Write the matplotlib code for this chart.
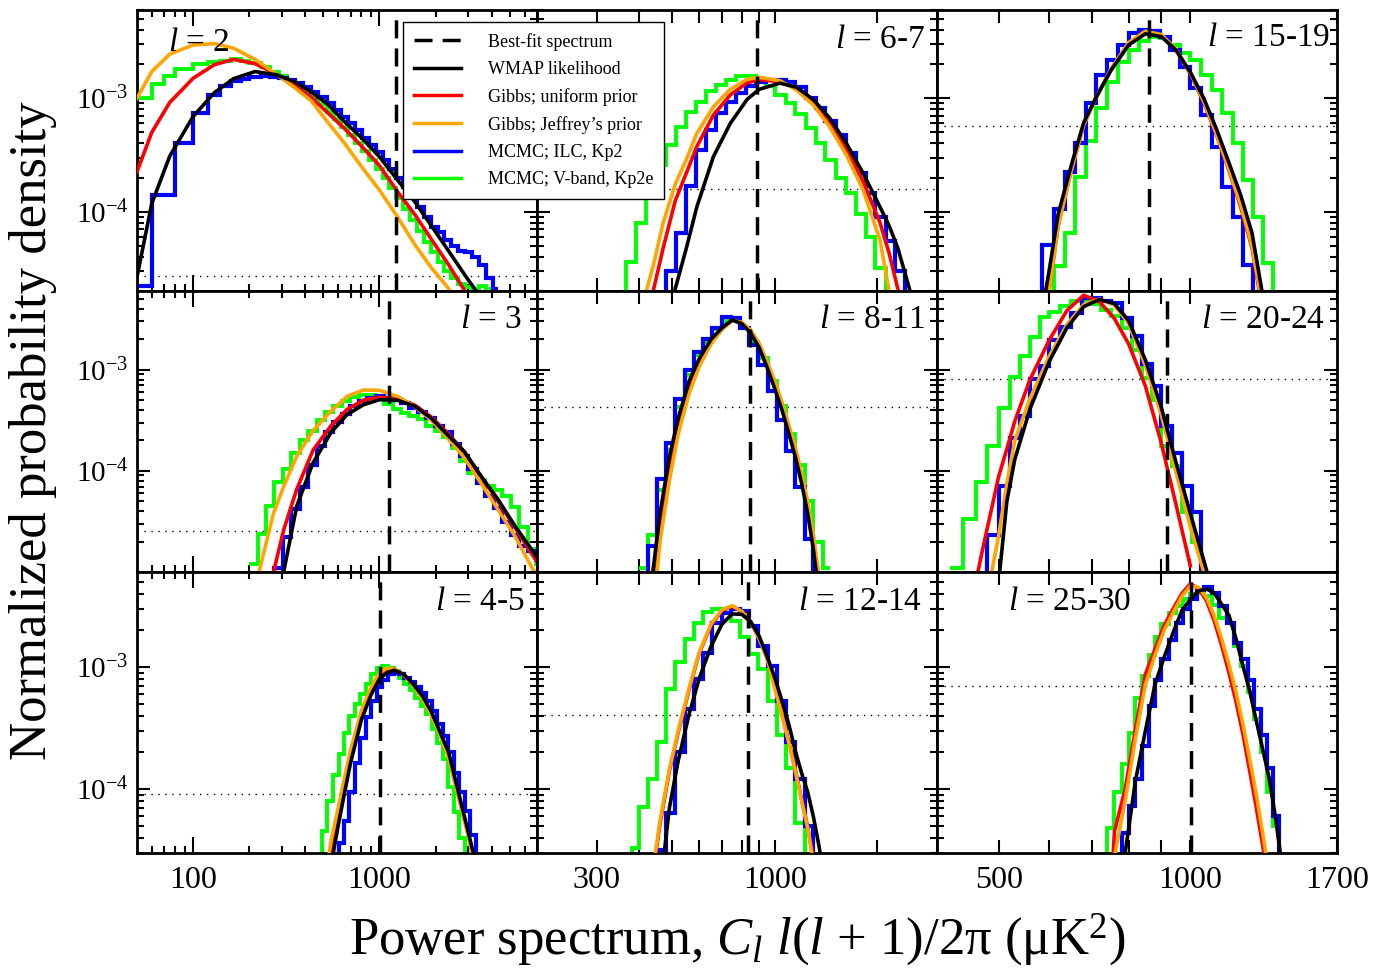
import numpy as np
import matplotlib
matplotlib.use("Agg")
import matplotlib.pyplot as plt
from matplotlib.ticker import FixedLocator, FixedFormatter, NullFormatter, LogLocator
from matplotlib.lines import Line2D

nan = np.nan

# ---- l = 2 ----
x_l2 = [50, 60, 75, 100, 130, 165, 215, 280, 350, 430, 530, 650, 800, 1000, 1250, 1550, 1900, 2350, 2900, 3300]
wmap_l2 = [2.66e-5, 1.18e-4, 3.1e-4, 6.9e-4, 1.12e-3, 1.49e-3, 1.72e-3, 1.61e-3, 1.4e-3, 1.14e-3, 8.8e-4, 6.2e-4,
           4.5e-4, 3.05e-4, 1.9e-4, 1.22e-4, 7.5e-5, 4.5e-5, 2.7e-5, 2.0e-5]
uni_l2 = [2.25e-4, 5.0e-4, 9.2e-4, 1.5e-3, 1.98e-3, 2.2e-3, 2.02e-3, 1.63e-3, 1.3e-3, 1.02e-3, 7.4e-4, 5.4e-4,
          3.8e-4, 2.55e-4, 1.5e-4, 9.4e-5, 5.7e-5, 3.4e-5, 1.95e-5, 1.3e-5]
jef_l2 = [1.0e-3, 1.72e-3, 2.45e-3, 2.95e-3, 3.03e-3, 2.76e-3, 2.2e-3, 1.63e-3, 1.24e-3, 9.5e-4, 6.1e-4, 4.0e-4,
          2.5e-4, 1.55e-4, 9.0e-5, 5.1e-5, 3.2e-5, 2.1e-5, 1.2e-5, 9e-6]
edges_l2 = [50, 60, 70, 80, 100, 120, 140, 160, 180, 200, 230, 260, 290, 320, 350, 390, 430, 470, 520, 570, 620,
            680, 740, 810, 880, 960, 1040, 1130, 1230, 1340, 1460, 1590, 1730, 1880, 2050, 2230, 2430, 2650, 2890,
            3150, 3430, 3740, 4080, 4300]
ilc_l2 = [2.2e-5, 1.4e-4, 1.4e-4, 4.0e-4, 7.4e-4, 1.07e-3, 1.29e-3, 1.42e-3, 1.48e-3, 1.55e-3, 1.56e-3, 1.55e-3,
          1.5e-3, 1.45e-3, 1.36e-3, 1.25e-3, 1.14e-3, 1.02e-3, 9.0e-4, 7.9e-4, 6.9e-4, 6.0e-4, 5.2e-4, 4.5e-4,
          3.9e-4, 3.35e-4, 2.85e-4, 2.4e-4, 2.0e-4, 1.65e-4, 1.35e-4, 1.1e-4, 9.0e-5, 7.4e-5, 6.6e-5, 5.6e-5,
          5.0e-5, 4.5e-5, 4.4e-5, 4.0e-5, 3.4e-5, 2.6e-5, 2.1e-5]
vband_l2 = [1.0e-3, 1.34e-3, 1.56e-3, 1.8e-3, 2.0e-3, 2.1e-3, 2.15e-3, 2.2e-3, 2.15e-3, 2.05e-3, 1.9e-3, 1.72e-3,
            1.58e-3, 1.45e-3, 1.3e-3, 1.15e-3, 1.02e-3, 8.9e-4, 7.6e-4, 6.5e-4, 5.6e-4, 4.7e-4, 4.0e-4, 3.4e-4,
            2.85e-4, 2.4e-4, 2.0e-4, 1.62e-4, 1.32e-4, 1.05e-4, 8.4e-5, 6.7e-5, 5.4e-5, 4.4e-5, 3.6e-5, 3.0e-5,
            2.6e-5, 2.3e-5, 2.15e-5, 2.1e-5, 2.2e-5, 2.1e-5, 1e-6]

# ---- l = 6-7 ----
x_l67 = [400, 420, 440, 470, 510, 550, 590, 660, 740, 830, 900, 1035, 1160, 1300, 1450, 1625, 1820, 2040, 2170,
         2300, 2500, 2700]
wmap_l67 = [nan, nan, nan, 5e-6, 2.1e-5, 4.8e-5, 1.1e-4, 3.05e-4, 6.0e-4, 9.8e-4, 1.2e-3, 1.36e-3, 1.25e-3,
            9.7e-4, 6.7e-4, 4.0e-4, 2.18e-4, 1.1e-4, 7.5e-5, 4.8e-5, 2.0e-5, 7e-6]
uni_l67 = [4e-6, 1.0e-5, 2.04e-5, 4.8e-5, 1.25e-4, 2.2e-4, 3.75e-4, 7.1e-4, 1.07e-3, 1.37e-3, 1.46e-3, 1.4e-3,
           1.22e-3, 9.3e-4, 6.2e-4, 3.6e-4, 1.84e-4, 8.0e-5, 4.3e-5, 2.1e-5, 7e-6, nan]
jef_l67 = [9e-6, 2.04e-5, 3.4e-5, 8.0e-5, 1.75e-4, 2.9e-4, 4.9e-4, 8.4e-4, 1.2e-3, 1.47e-3, 1.53e-3, 1.43e-3,
           1.18e-3, 8.7e-4, 5.6e-4, 3.16e-4, 1.55e-4, 5.6e-5, 2.0e-5, 7e-6, nan, nan]
edges_l67 = [340, 365, 390, 417, 446, 478, 511, 547, 585, 626, 670, 717, 767, 821, 878, 940, 1005, 1076, 1151,
             1232, 1318, 1410, 1509, 1615, 1728, 1849, 1978, 2117, 2265, 2423, 2600]
ilc_l67 = [1e-6, 1e-6, 1e-6, 1e-6, 1e-6, 3.0e-5, 6.5e-5, 1.7e-4, 3.5e-4, 5.3e-4, 7.4e-4, 9.3e-4, 1.12e-3, 1.27e-3,
           1.38e-3, 1.44e-3, 1.45e-3, 1.38e-3, 1.25e-3, 1.0e-3, 8.2e-4, 6.3e-4, 4.7e-4, 3.3e-4, 2.2e-4, 1.45e-4,
           9.0e-5, 5.5e-5, 3.0e-5, 1e-6]
vband_l67 = [1.9e-5, 3.6e-5, 8.0e-5, 1.6e-4, 2.6e-4, 3.9e-4, 5.6e-4, 7.5e-4, 9.3e-4, 1.17e-3, 1.32e-3, 1.45e-3,
             1.56e-3, 1.58e-3, 1.47e-3, 1.28e-3, 1.07e-3, 9.0e-4, 7.3e-4, 5.5e-4, 4.0e-4, 2.85e-4, 2.0e-4, 1.45e-4,
             9.5e-5, 6.0e-5, 3.2e-5, 1e-6, 1e-6, 1e-6]

# ---- l = 15-19 ----
x_l1519 = [580, 600, 620, 650, 680, 710, 750, 800, 850, 900, 950, 1000, 1050, 1100, 1150, 1200, 1250, 1300, 1330]
wmap_l1519 = [1.0e-5, 3.0e-5, 9.5e-5, 2.55e-4, 6.1e-4, 1.0e-3, 1.75e-3, 2.95e-3, 3.7e-3, 3.5e-3, 2.65e-3,
              1.7e-3, 1.0e-3, 5.3e-4, 2.7e-4, 1.4e-4, 6.5e-5, 1.8e-5, 8e-6]
uni_l1519 = [6e-6, 2.0e-5, 7.5e-5, 2.3e-4, 5.8e-4, 1.0e-3, 1.8e-3, 3.05e-3, 3.85e-3, 3.6e-3, 2.65e-3, 1.65e-3,
             9.2e-4, 4.7e-4, 2.3e-4, 1.1e-4, 4.8e-5, 1.3e-5, 5e-6]
jef_l1519 = [6e-6, 2.0e-5, 7.5e-5, 2.3e-4, 5.8e-4, 1.0e-3, 1.8e-3, 3.1e-3, 3.9e-3, 3.65e-3, 2.7e-3, 1.68e-3,
             9.4e-4, 4.8e-4, 2.35e-4, 1.15e-4, 5.0e-5, 1.4e-5, 5e-6]
edges_l1519 = [560, 585, 610, 635, 660, 685, 712, 740, 770, 800, 830, 862, 895, 930, 965, 1000, 1040, 1080,
               1120, 1165, 1210, 1255, 1300, 1350, 1400]
ilc_l1519 = [1e-6, 5.1e-5, 1.05e-4, 2.25e-4, 4.0e-4, 9.0e-4, 1.6e-3, 2.18e-3, 2.95e-3, 3.75e-3, 4.0e-3, 3.95e-3,
             3.5e-3, 2.67e-3, 1.9e-3, 1.22e-3, 7.1e-4, 3.74e-4, 1.66e-4, 9.0e-5, 3.4e-5, 1e-6, 1e-6, 1e-6]
vband_l1519 = [1e-6, 1e-6, 3.3e-5, 6.5e-5, 2.03e-4, 4.2e-4, 8.2e-4, 1.4e-3, 2.1e-3, 2.67e-3, 3.2e-3, 3.5e-3,
               3.4e-3, 2.95e-3, 2.5e-3, 2.18e-3, 1.61e-3, 1.18e-3, 7.4e-4, 4.0e-4, 1.9e-4, 9.0e-5, 3.5e-5, 1e-6]

# ---- l = 3 ----
x_l3 = [200, 230, 270, 306, 360, 440, 550, 670, 820, 1000, 1250, 1550, 1900, 2300, 2850, 3500, 4300, 5300, 6500, 7000]
wmap_l3 = [nan, nan, 2e-6, 1.0e-5, 4.5e-5, 1.2e-4, 2.4e-4, 3.6e-4, 4.5e-4, 5.05e-4, 5.0e-4, 4.35e-4, 3.3e-4,
           2.3e-4, 1.55e-4, 8.9e-5, 5.3e-5, 2.9e-5, 1.7e-5, 1.4e-5]
uni_l3 = [nan, 3e-6, 1.0e-5, 2.6e-5, 6.6e-5, 1.6e-4, 2.8e-4, 4.05e-4, 5.0e-4, 5.35e-4, 5.2e-4, 4.45e-4, 3.4e-4,
          2.4e-4, 1.55e-4, 8.9e-5, 5.1e-5, 2.8e-5, 1.55e-5, 1.26e-5]
jef_l3 = [4e-6, 1.15e-5, 3.8e-5, 7e-5, 1.4e-4, 2.5e-4, 3.9e-4, 5.45e-4, 6.3e-4, 6.25e-4, 5.45e-4, 4.3e-4, 3.15e-4,
          2.15e-4, 1.35e-4, 7.6e-5, 4.2e-5, 2.3e-5, 1.15e-5, 9e-6]
edges_l3 = [200, 222, 246, 273, 303, 336, 373, 414, 460, 510, 566, 628, 697, 774, 860, 955, 1060, 1175, 1305,
            1445, 1605, 1780, 1980, 2195, 2435, 2705, 3000, 3330, 3700, 4105, 4555, 5060, 5615, 6230, 6920, 7000]
ilc_l3 = [1e-6, 1e-6, 1e-6, 1.1e-5, 2.2e-5, 4.2e-5, 7.0e-5, 1.15e-4, 1.78e-4, 2.4e-4, 3.05e-4, 3.65e-4, 4.4e-4,
          4.9e-4, 5.2e-4, 5.45e-4, 5.3e-4, 5.05e-4, 4.7e-4, 4.2e-4, 3.8e-4, 3.3e-4, 2.8e-4, 2.4e-4, 1.85e-4,
          1.4e-4, 1.05e-4, 7.6e-5, 5.7e-5, 4.3e-5, 3.1e-5, 2.3e-5, 1.8e-5, 1.6e-5, 1.35e-5]
vband_l3 = [1.2e-5, 2.4e-5, 4.5e-5, 7.8e-5, 1.05e-4, 1.5e-4, 2.0e-4, 2.45e-4, 3.2e-4, 3.85e-4, 4.4e-4, 4.95e-4,
            5.4e-4, 5.6e-4, 5.65e-4, 5.4e-4, 4.6e-4, 4.1e-4, 3.75e-4, 3.45e-4, 3.25e-4, 2.8e-4, 2.45e-4, 2.15e-4,
            1.7e-4, 1.25e-4, 9.5e-5, 8.2e-5, 7.1e-5, 6.4e-5, 5.6e-5, 4.4e-5, 2.8e-5, 1.7e-5, 1.2e-5]

# ---- l = 8-11 ----
x_l811 = [400, 430, 460, 490, 520, 560, 600, 650, 700, 750, 800, 850, 900, 950, 1000, 1050, 1100, 1150, 1200,
          1250, 1300, 1350, 1400]
wmap_l811 = [nan, 6e-6, 3.8e-5, 1.37e-4, 3.3e-4, 7.7e-4, 1.29e-3, 2.0e-3, 2.6e-3, 3.1e-3, 2.85e-3, 2.3e-3, 1.65e-3,
             1.05e-3, 6.5e-4, 4.0e-4, 2.35e-4, 1.37e-4, 7.5e-5, 3.8e-5, 1.65e-5, 6e-6, nan]
uni_l811 = [nan, 4e-6, 3.0e-5, 1.15e-4, 2.9e-4, 7.0e-4, 1.2e-3, 1.92e-3, 2.55e-3, 3.1e-3, 2.9e-3, 2.38e-3, 1.72e-3,
            1.12e-3, 7.0e-4, 4.3e-4, 2.55e-4, 1.5e-4, 8.2e-5, 4.2e-5, 1.9e-5, 7e-6, nan]
jef_l811 = [nan, 2e-6, 2.0e-5, 8.0e-5, 2.3e-4, 5.8e-4, 1.08e-3, 1.8e-3, 2.5e-3, 3.05e-3, 2.95e-3, 2.45e-3, 1.82e-3,
            1.2e-3, 7.8e-4, 4.8e-4, 2.85e-4, 1.7e-4, 9.5e-5, 5.0e-5, 2.3e-5, 9e-6, nan]
edges_l811 = [400, 425, 450, 480, 510, 545, 580, 615, 655, 700, 745, 790, 840, 895, 955, 1015, 1080, 1150, 1225,
              1300, 1385, 1450]
ilc_l811 = [1e-6, 1.8e-5, 8.3e-5, 1.9e-4, 5.1e-4, 1.0e-3, 1.5e-3, 2.0e-3, 2.6e-3, 3.3e-3, 3.25e-3, 2.58e-3,
            1.76e-3, 1.12e-3, 6.1e-4, 3.2e-4, 1.57e-4, 6.9e-5, 2.1e-5, 1e-6, 1e-6]
vband_l811 = [1.1e-5, 2.3e-5, 6.5e-5, 1.6e-4, 4.3e-4, 8.8e-4, 1.4e-3, 1.9e-3, 2.5e-3, 3.0e-3, 3.05e-3, 2.6e-3,
              1.9e-3, 1.3e-3, 7.8e-4, 4.4e-4, 2.3e-4, 1.15e-4, 5.0e-5, 2.0e-5, 1.1e-5]

# ---- l = 20-24 ----
x_l2024 = [440, 470, 500, 515, 530, 560, 600, 640, 680, 720, 760, 800, 850, 900, 950, 1000, 1050, 1080]
wmap_l2024 = [nan, nan, 8e-6, 5.0e-5, 1.3e-4, 4.1e-4, 1.2e-3, 2.6e-3, 4.2e-3, 4.95e-3, 4.5e-3, 3.05e-3, 1.25e-3,
              4.3e-4, 1.2e-4, 3.8e-5, 1.3e-5, 7e-6]
uni_l2024 = [2e-6, 1.5e-5, 8.8e-5, 1.65e-4, 3.1e-4, 8.0e-4, 1.95e-3, 3.85e-3, 5.45e-3, 4.7e-3, 3.2e-3, 1.8e-3,
             6.9e-4, 1.9e-4, 4.6e-5, 1.15e-5, nan, nan]
jef_l2024 = [nan, 3e-6, 2.3e-5, 7.5e-5, 2.0e-4, 5.2e-4, 1.35e-3, 2.8e-3, 4.4e-3, 5.0e-3, 4.35e-3, 2.85e-3, 1.1e-3,
             3.6e-4, 9.5e-5, 2.8e-5, 1.0e-5, 4e-6]
edges_l2024 = [420, 440, 460, 480, 500, 520, 540, 560, 580, 600, 625, 650, 675, 700, 725, 750, 780, 810, 840, 870,
               900, 935, 970, 1005, 1040, 1075]
ilc_l2024 = [1e-6, 1e-6, 1e-6, 2.3e-5, 7.1e-5, 2.1e-4, 3.47e-4, 8.1e-4, 1.08e-3, 1.97e-3, 2.67e-3, 3.6e-3,
             5.07e-3, 5.07e-3, 4.8e-3, 4.53e-3, 3.22e-3, 2.13e-3, 1.15e-3, 6.85e-4, 2.77e-4, 1.51e-4, 7.1e-5,
             3.9e-5, 1e-6]
vband_l2024 = [1.1e-5, 3.35e-5, 7.7e-5, 1.76e-4, 4.2e-4, 8.4e-4, 1.37e-3, 2.1e-3, 3.3e-3, 3.7e-3, 4.3e-3, 4.8e-3,
               4.88e-3, 4.47e-3, 3.9e-3, 3.37e-3, 2.57e-3, 1.57e-3, 8.3e-4, 5.07e-4, 1.76e-4, 1.12e-4, 3.9e-5,
               2.0e-5, 1e-6]

# ---- l = 4-5 ----
x_l45 = [500, 550, 600, 650, 700, 800, 900, 1000, 1100, 1200, 1350, 1500, 1700, 1900, 2100, 2350, 2650, 3000, 3300]
wmap_l45 = [8e-6, 2.4e-5, 5.0e-5, 9.4e-5, 1.65e-4, 3.7e-4, 5.9e-4, 8.0e-4, 9.0e-4, 9.4e-4, 8.7e-4, 7.4e-4, 5.8e-4,
            4.3e-4, 3.0e-4, 2.0e-4, 9.5e-5, 4.4e-5, 2.4e-5]
uni_l45 = [1.1e-5, 3.0e-5, 6.0e-5, 1.1e-4, 1.9e-4, 4.1e-4, 6.4e-4, 8.6e-4, 9.6e-4, 9.6e-4, 8.7e-4, 7.3e-4, 5.6e-4,
           4.1e-4, 2.9e-4, 1.85e-4, 8.8e-5, 4.2e-5, 2.1e-5]
jef_l45 = [1.5e-5, 3.8e-5, 7.0e-5, 1.25e-4, 2.1e-4, 4.4e-4, 6.8e-4, 9.0e-4, 9.8e-4, 9.6e-4, 8.6e-4, 7.2e-4, 5.5e-4,
           4.0e-4, 2.85e-4, 1.8e-4, 8.6e-5, 4.1e-5, 2.0e-5]
edges_l45 = [460, 490, 525, 565, 605, 645, 690, 740, 790, 845, 905, 970, 1035, 1110, 1190, 1270, 1360, 1455, 1555,
             1665, 1780, 1905, 2040, 2185, 2335, 2500, 2675, 2860, 3060, 3275, 3360]
ilc_l45 = [1e-6, 1e-6, 1e-6, 1e-6, 3.6e-5, 5.5e-5, 9.5e-5, 1.65e-4, 2.6e-4, 3.9e-4, 5.3e-4, 6.8e-4, 7.9e-4,
           8.7e-4, 8.9e-4, 8.7e-4, 8.2e-4, 7.6e-4, 6.9e-4, 6.1e-4, 5.3e-4, 4.4e-4, 3.4e-4, 2.7e-4, 2.0e-4,
           1.35e-4, 9.5e-5, 6.6e-5, 4.2e-5, 3.2e-5]
vband_l45 = [2.8e-5, 4.5e-5, 8.0e-5, 1.3e-4, 1.95e-4, 2.9e-4, 4.0e-4, 5.0e-4, 6.0e-4, 7.3e-4, 8.7e-4, 9.8e-4,
             1.02e-3, 9.9e-4, 9.2e-4, 8.2e-4, 7.3e-4, 6.5e-4, 5.6e-4, 4.8e-4, 4.1e-4, 3.1e-4, 2.4e-4, 1.75e-4,
             1.05e-4, 6.5e-5, 4.0e-5, 1e-6, 1e-6, 1e-6]

# ---- l = 12-14 ----
x_l1214 = [400, 430, 460, 490, 520, 560, 600, 650, 700, 750, 800, 850, 900, 950, 1000, 1050, 1100, 1150, 1200,
           1250, 1300, 1350, 1400]
wmap_l1214 = [nan, nan, 1.5e-5, 7e-5, 1.7e-4, 4.1e-4, 8.1e-4, 1.48e-3, 2.25e-3, 2.72e-3, 2.7e-3, 2.35e-3, 1.79e-3,
              1.22e-3, 8.2e-4, 5.3e-4, 3.4e-4, 2.05e-4, 1.35e-4, 9.5e-5, 5.9e-5, 3.4e-5, 1.8e-5]
uni_l1214 = [nan, 1.4e-5, 5.2e-5, 1.4e-4, 2.9e-4, 6.5e-4, 1.3e-3, 2.2e-3, 2.9e-3, 3.15e-3, 2.85e-3, 2.35e-3,
             1.72e-3, 1.17e-3, 6.9e-4, 4.1e-4, 2.45e-4, 1.45e-4, 8.2e-5, 4.9e-5, 2.6e-5, 1.3e-5, nan]
jef_l1214 = [nan, 1.5e-5, 5.5e-5, 1.45e-4, 3.0e-4, 6.7e-4, 1.32e-3, 2.25e-3, 2.95e-3, 3.18e-3, 2.85e-3, 2.35e-3,
             1.7e-3, 1.17e-3, 6.7e-4, 4.0e-4, 2.4e-4, 1.4e-4, 8.0e-5, 4.8e-5, 2.5e-5, 1.2e-5, nan]
edges_l1214 = [360, 380, 400, 425, 450, 480, 510, 545, 580, 615, 655, 700, 745, 790, 840, 895, 955, 1015, 1080,
               1150, 1225, 1300, 1385, 1450]
ilc_l1214 = [1e-6, 1e-6, 1e-6, 1e-6, 3.2e-5, 6.4e-5, 2.0e-4, 4.5e-4, 8.0e-4, 1.3e-3, 2.3e-3, 2.78e-3, 3.0e-3,
             2.87e-3, 2.17e-3, 1.5e-3, 1.02e-3, 5.3e-4, 2.41e-4, 1.2e-4, 5.0e-5, 1e-6, 1e-6]
vband_l1214 = [1e-6, 3.3e-5, 7.2e-5, 1.22e-4, 2.41e-4, 6.6e-4, 1.09e-3, 1.7e-3, 2.3e-3, 2.82e-3, 2.97e-3, 2.78e-3,
               2.4e-3, 1.75e-3, 1.27e-3, 9.6e-4, 5.3e-4, 2.75e-4, 1.5e-4, 5.3e-5, 1e-6, 1e-6, 1e-6]

# ---- l = 25-30 ----
x_l2530 = [730, 760, 790, 820, 850, 880, 910, 940, 970, 1000, 1030, 1060, 1090, 1120, 1150, 1180, 1210, 1240, 1270,
           1300, 1330, 1360, 1390]
wmap_l2530 = [nan, 5e-6, 3.0e-5, 1.17e-4, 3.0e-4, 7.2e-4, 1.21e-3, 1.92e-3, 2.9e-3, 3.56e-3, 4.2e-3, 4.35e-3,
              4.05e-3, 3.27e-3, 2.65e-3, 1.7e-3, 1.02e-3, 6.3e-4, 3.6e-4, 2.1e-4, 1.23e-4, 6e-5, 2.6e-5]
uni_l2530 = [1e-6, 4.5e-5, 1.0e-4, 3.1e-4, 8.7e-4, 1.4e-3, 2.2e-3, 3.0e-3, 4.0e-3, 4.8e-3, 4.4e-3, 3.5e-3, 2.4e-3,
             1.5e-3, 9e-4, 5.2e-4, 2.8e-4, 1.4e-4, 7e-5, 3.4e-5, 1.5e-5, nan, nan]
jef_l2530 = [nan, 2.8e-5, 8.0e-5, 2.6e-4, 7.2e-4, 1.25e-3, 2.0e-3, 2.8e-3, 3.8e-3, 4.6e-3, 4.5e-3, 3.7e-3, 2.65e-3,
             1.7e-3, 1.05e-3, 6.2e-4, 3.4e-4, 1.75e-4, 9e-5, 4.3e-5, 2.0e-5, 8e-6, nan]
edges_l2530 = [720, 740, 760, 780, 800, 820, 840, 860, 880, 900, 925, 950, 975, 1000, 1025, 1050, 1080, 1110, 1140,
               1170, 1200, 1230, 1260, 1290, 1320, 1350, 1380, 1410]
ilc_l2530 = [1e-6, 1e-6, 1e-6, 4.4e-5, 7.3e-5, 1.21e-4, 2.26e-4, 4.8e-4, 7.9e-4, 1.16e-3, 1.68e-3, 2.3e-3, 2.97e-3,
             3.58e-3, 4.31e-3, 4.5e-3, 4.05e-3, 3.15e-3, 2.3e-3, 1.58e-3, 1.16e-3, 7.9e-4, 4.5e-4, 2.8e-4,
             1.5e-4, 6e-5, 1e-6]
vband_l2530 = [1e-6, 4.8e-5, 9.4e-5, 1.6e-4, 2.9e-4, 5.6e-4, 8.45e-4, 1.25e-3, 1.75e-3, 2.24e-3, 2.78e-3, 3.15e-3,
               3.58e-3, 3.95e-3, 4.05e-3, 3.8e-3, 3.25e-3, 2.54e-3, 2.3e-3, 1.5e-3, 1.02e-3, 6.2e-4, 3.73e-4,
               2.0e-4, 9.4e-5, 5e-5, 1e-6]

# panel order row by row
labels = ['2', '6-7', '15-19', '3', '8-11', '20-24', '4-5', '12-14', '25-30']
best_fit = [1224, 884, 860, 1122, 844, 919, 1010, 835, 1004]
dotted = [2.7e-5, 1.58e-4, 5.73e-4, 2.57e-5, 4.26e-4, 8.1e-4, 9.05e-5, 4.08e-4, 7.0e-4]

panels = [
    (x_l2, wmap_l2, uni_l2, jef_l2, edges_l2, ilc_l2, vband_l2),
    (x_l67, wmap_l67, uni_l67, jef_l67, edges_l67, ilc_l67, vband_l67),
    (x_l1519, wmap_l1519, uni_l1519, jef_l1519, edges_l1519, ilc_l1519, vband_l1519),
    (x_l3, wmap_l3, uni_l3, jef_l3, edges_l3, ilc_l3, vband_l3),
    (x_l811, wmap_l811, uni_l811, jef_l811, edges_l811, ilc_l811, vband_l811),
    (x_l2024, wmap_l2024, uni_l2024, jef_l2024, edges_l2024, ilc_l2024, vband_l2024),
    (x_l45, wmap_l45, uni_l45, jef_l45, edges_l45, ilc_l45, vband_l45),
    (x_l1214, wmap_l1214, uni_l1214, jef_l1214, edges_l1214, ilc_l1214, vband_l1214),
    (x_l2530, wmap_l2530, uni_l2530, jef_l2530, edges_l2530, ilc_l2530, vband_l2530),
]

# label placement (axes fraction, alignment)
label_pos = [(0.078, 0.883, 'left'), (0.97, 0.893, 'right'), (0.983, 0.9, 'right'),
             (0.9625, 0.897, 'right'), (0.97, 0.897, 'right'), (0.97, 0.897, 'right'),
             (0.97, 0.893, 'right'), (0.9625, 0.893, 'right'), (0.1775, 0.893, 'left')]

xlims = [(50, 7000), (200, 3000), (400, 1700)]
ylims = [(2e-5, 6e-3), (1e-5, 6e-3), (3e-5, 6e-3)]
xmajor = [[100, 1000], [300, 1000], [500, 1000, 1700]]
xminor = [[60, 70, 80, 90, 200, 300, 400, 500, 600, 700, 800, 900, 2000, 3000, 4000, 5000, 6000],
          [400, 500, 600, 700, 800, 900, 2000],
          [600, 700, 800, 900]]

RED, ORANGE, BLUE, GREEN = '#ff0000', '#ffa500', '#0000ff', '#00ff00'
DASH = (0, (5.2, 2.9))

plt.rcParams['font.family'] = ['Liberation Serif', 'DejaVu Serif']
plt.rcParams['mathtext.fontset'] = 'custom'
plt.rcParams['mathtext.rm'] = 'Liberation Serif'
plt.rcParams['mathtext.it'] = 'Liberation Serif:italic'

fig, axes = plt.subplots(3, 3, figsize=(13.87, 9.75), dpi=100)
fig.subplots_adjust(left=137 / 1387, right=1337 / 1387, top=1 - 10 / 975, bottom=1 - 853 / 975,
                    wspace=0, hspace=0)

for i, ax in enumerate(axes.flat):
    r, c = divmod(i, 3)
    x, wmap, uni, jef, edges, ilc, vband = panels[i]
    ax.set_xscale('log')
    ax.set_yscale('log')

    ax.axhline(dotted[i], color='k', lw=1.0, ls=(0, (1, 4)), zorder=1)
    ax.stairs(vband, edges, color=GREEN, lw=2.8, baseline=None, zorder=2)
    ax.stairs(ilc, edges, color=BLUE, lw=3.0, baseline=None, zorder=2.1)
    ax.plot(x, uni, color=RED, lw=2.6, zorder=3)
    ax.plot(x, jef, color=ORANGE, lw=2.6, zorder=3.1)
    ax.plot(x, wmap, color='k', lw=2.6, zorder=3.2)
    ax.axvline(best_fit[i], color='k', lw=2.5, ls=DASH, zorder=4)

    ax.set_xlim(*xlims[c])
    ax.set_ylim(*ylims[r])

    # x ticks
    ax.xaxis.set_major_locator(FixedLocator(xmajor[c]))
    ax.xaxis.set_minor_locator(FixedLocator(xminor[c]))
    ax.xaxis.set_minor_formatter(NullFormatter())
    if r == 2:
        ax.xaxis.set_major_formatter(FixedFormatter([str(v) for v in xmajor[c]]))
    else:
        ax.xaxis.set_major_formatter(NullFormatter())

    # y ticks
    ax.yaxis.set_major_locator(FixedLocator([1e-4, 1e-3]))
    ax.yaxis.set_minor_locator(LogLocator(base=10, subs=range(2, 10)))
    ax.yaxis.set_minor_formatter(NullFormatter())
    if c == 0:
        ax.yaxis.set_major_formatter(FixedFormatter([r'$10^{-4}$', r'$10^{-3}$']))
    else:
        ax.yaxis.set_major_formatter(NullFormatter())

    xmaj_len = 11.5 if c == 0 else 9.5
    xmin_len = 5.0 if c == 0 else 9.5
    ax.tick_params(axis='x', which='major', direction='in', top=True, bottom=True,
                   length=xmaj_len, width=1.5, labelsize=23, pad=9)
    ax.tick_params(axis='x', which='minor', direction='in', top=True, bottom=True,
                   length=xmin_len, width=1.5)
    ax.tick_params(axis='y', which='major', direction='in', left=True, right=True,
                   length=9.5, width=1.5, labelsize=21, pad=6)
    ax.tick_params(axis='y', which='minor', direction='in', left=True, right=True,
                   length=5.0, width=1.5)
    for sp in ax.spines.values():
        sp.set_linewidth(2.0)

    lx, ly, ha = label_pos[i]
    ax.text(lx, ly, r'$l$ = ' + labels[i], transform=ax.transAxes, ha=ha, va='center',
            fontsize=24, zorder=6)

handles = [
    Line2D([], [], color='k', lw=2.5, ls=DASH),
    Line2D([], [], color='k', lw=2.5),
    Line2D([], [], color=RED, lw=2.5),
    Line2D([], [], color=ORANGE, lw=2.5),
    Line2D([], [], color=BLUE, lw=2.5),
    Line2D([], [], color=GREEN, lw=2.5),
]
names = ['Best-fit spectrum', 'WMAP likelihood', 'Gibbs; uniform prior', 'Gibbs; Jeffrey\u2019s prior',
         'MCMC; ILC, Kp2', 'MCMC; V-band, Kp2e']
leg = fig.legend(handles, names, loc='upper left', bbox_to_anchor=(403 / 1387, 1 - 22 / 975),
                 borderaxespad=0, fontsize=13, frameon=True, fancybox=False, framealpha=1,
                 edgecolor='k', handlelength=2.6, handletextpad=1.5, labelspacing=0.56,
                 borderpad=0.6)
leg.get_frame().set_linewidth(1.0)

fig.text(33 / 1387, 1 - 431 / 975, 'Normalized probability density', rotation=90,
         ha='center', va='center', fontsize=38)
fig.text(737 / 1387, 1 - 940 / 975, r'Power spectrum, $C_l$ $l$($l$ + 1)/2π (μK$^2$)',
         ha='center', va='center', fontsize=38)

fig.savefig('out.png', dpi=100)
